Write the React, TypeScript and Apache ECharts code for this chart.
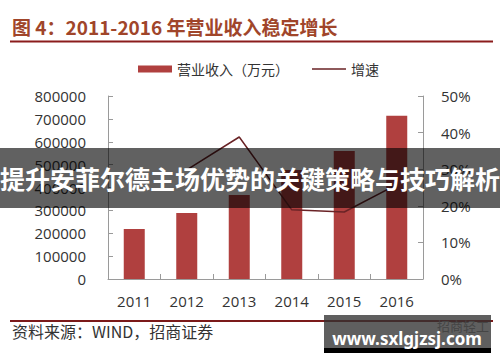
import React, { useEffect, useRef } from "react";
import * as echarts from "echarts";

const years = ["2011", "2012", "2013", "2014", "2015", "2016"];
const revenue = [219000, 289000, 367000, 476000, 560000, 714000];
const growth = [null, 0.298, 0.388, 0.189, 0.183, 0.258];
const revenueTicks = [0, 100000, 200000, 300000, 400000, 500000, 600000, 700000, 800000];
const growthTicks = [0, 0.1, 0.2, 0.3, 0.4, 0.5];
const titleText = "图 4：2011-2016 年营业收入稳定增长";
const seriesNames = ["营业收入（万元）", "增速"];
const sourceText = "资料来源：WIND，招商证券";
const overlayText = "提升安菲尔德主场优势的关键策略与技巧解析";
const siteText = "www.sxlgjzsj.com";
const faintText = "招商轻工";

const numFont = "'Open Sans', 'Noto Sans', sans-serif";
const cjkFont = "'Noto Sans CJK SC', sans-serif";
const lineIcon = "path://M0,0 L0.01,0 M0,2.7 L34,2.7 L34,4.3 L0,4.3 Z M0,7 L0.01,7";

export default function App() {
  const ref = useRef<HTMLDivElement>(null);
  useEffect(() => {
    if (!ref.current) return;
    const chart = echarts.init(ref.current, null, { renderer: "svg" });
    const axisLine = { show: true, lineStyle: { color: "#9a9a9a", width: 1 } };
    const axisTick = { show: true, inside: true, length: 5, lineStyle: { color: "#9a9a9a" } };
    chart.setOption({
      animation: false,
      backgroundColor: "#ffffff",
      legend: {
        left: 133,
        top: 57,
        itemWidth: 34,
        itemHeight: 7,
        itemGap: 23,
        textStyle: { fontFamily: cjkFont, fontSize: 14, color: "#333" },
        data: [
          { name: seriesNames[0], icon: "rect" },
          { name: seriesNames[1], icon: lineIcon, itemStyle: { color: "#6a2326" } },
        ],
      },
      grid: { left: 108, right: 77, top: 96, bottom: 83 },
      xAxis: {
        type: "category",
        data: years,
        boundaryGap: true,
        axisLine,
        axisTick,
        axisLabel: { margin: 14, fontFamily: numFont, fontSize: 15, color: "#333" },
      },
      yAxis: [
        {
          type: "value",
          min: revenueTicks[0],
          max: revenueTicks[revenueTicks.length - 1],
          interval: revenueTicks[1] - revenueTicks[0],
          splitLine: { show: false },
          axisLine,
          axisTick,
          axisLabel: {
            margin: 22,
            fontFamily: numFont,
            fontSize: 15,
            color: "#333",
            formatter: (v: number) => String(v),
          },
        },
        {
          type: "value",
          min: growthTicks[0],
          max: growthTicks[growthTicks.length - 1],
          interval: growthTicks[1] - growthTicks[0],
          splitLine: { show: false },
          axisLine,
          axisTick,
          axisLabel: {
            margin: 18,
            fontFamily: numFont,
            fontSize: 15,
            color: "#333",
            formatter: (v: number) => Math.round(v * 100) + "%",
          },
        },
      ],
      series: [
        {
          name: seriesNames[0],
          type: "bar",
          data: revenue,
          barWidth: 21,
          itemStyle: { color: "#b0403f" },
        },
        {
          name: seriesNames[1],
          type: "line",
          yAxisIndex: 1,
          data: growth,
          symbol: "none",
          lineStyle: { color: "#6a2326", width: 1.5 },
          itemStyle: { color: "#6a2326" },
        },
      ],
      graphic: [
        {
          type: "text",
          left: 12,
          top: 17,
          style: {
            text: titleText,
            fontFamily: cjkFont,
            fontWeight: "bold",
            fontSize: 19,
            fill: "#a0452a",
          },
        },
        {
          type: "line",
          shape: { x1: 10, y1: 41.5, x2: 493, y2: 41.5 },
          style: { stroke: "#8b1c1c", lineWidth: 2 },
        },
        {
          type: "line",
          shape: { x1: 10, y1: 321, x2: 493, y2: 321 },
          style: { stroke: "#7b1a1a", lineWidth: 2 },
        },
        {
          type: "text",
          left: 12,
          top: 323,
          style: {
            text: sourceText,
            fontFamily: cjkFont,
            fontSize: 16,
            fill: "#333",
          },
        },
        {
          type: "rect",
          z: 100,
          shape: { x: 0, y: 148, width: 500, height: 60 },
          style: { fill: "rgba(0,0,0,0.62)" },
        },
        {
          type: "text",
          z: 101,
          x: 250,
          y: 178,
          style: {
            text: overlayText,
            fontFamily: cjkFont,
            fontWeight: "bold",
            fontSize: 25,
            fill: "#ffffff",
            align: "center",
            verticalAlign: "middle",
          },
        },
        {
          type: "text",
          z: 99,
          x: 437,
          y: 325,
          style: {
            text: faintText,
            fontFamily: cjkFont,
            fontSize: 13,
            fill: "#888",
            verticalAlign: "middle",
          },
        },
        {
          type: "rect",
          z: 100,
          shape: { x: 324, y: 315, width: 167, height: 33 },
          style: { fill: "rgba(50,50,50,0.78)" },
        },
        {
          type: "rect",
          z: 100,
          shape: { x: 324, y: 348, width: 167, height: 5 },
          style: { fill: "#000" },
        },
        {
          type: "text",
          z: 101,
          x: 407,
          y: 338,
          style: {
            text: siteText,
            fontFamily: "'Noto Sans', sans-serif",
            fontWeight: "bold",
            fontSize: 17,
            fill: "#ffffff",
            align: "center",
            verticalAlign: "middle",
          },
        },
      ],
    });
    return () => chart.dispose();
  }, []);
  return (
    <div
      ref={ref}
      style={{ position: "absolute", left: 0, top: 0, width: 500, height: 362 }}
    />
  );
}
